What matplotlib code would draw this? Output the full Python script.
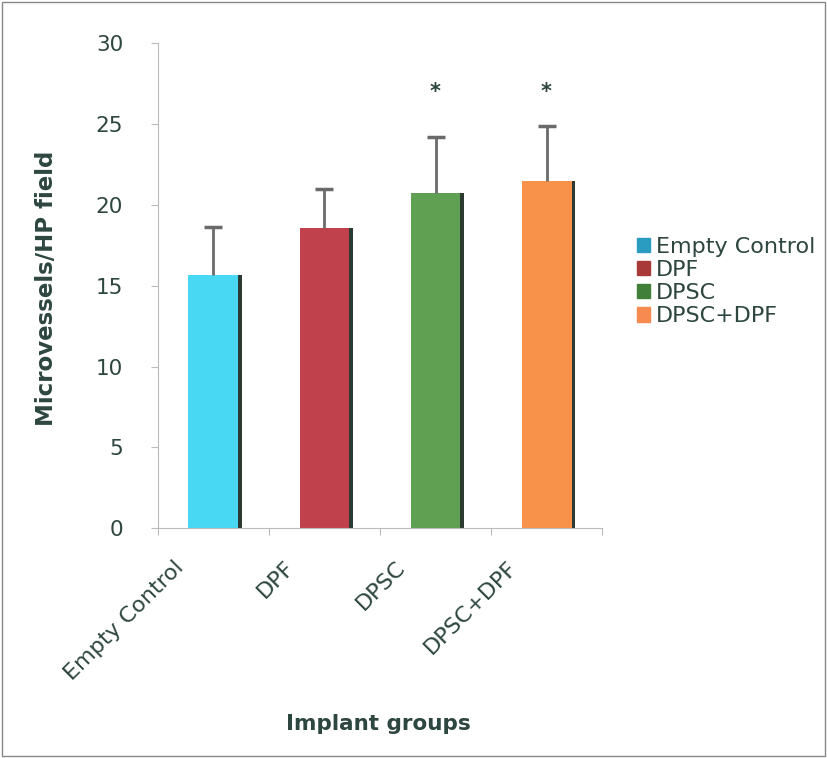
import matplotlib.pyplot as plt
import matplotlib.patches as mpatches
import numpy as np

groups = ['Empty Control', 'DPF', 'DPSC', 'DPSC+DPF']
means = [15.65, 18.6, 20.75, 21.5]
errs = [3.0, 2.4, 3.45, 3.4]
signif = ['', '', '*', '*']

bar_colors = ['#48d8f4', '#c0404c', '#5fa052', '#f8914a']
legend_colors = ['#2a9cc2', '#a83a3a', '#3f7f3a', '#f78a50']
txt = '#2e4640'

plt.rcParams['font.family'] = 'DejaVu Sans'
fig = plt.figure(figsize=(8.27, 7.58), dpi=100)
ax = fig.add_axes([0.191, 0.303, 0.537, 0.640])

x = np.arange(len(groups))
w = 0.45
# dark shadow on right side of each bar
ax.bar(x + 0.035, means, w, color='#2b3b32', zorder=1)
ax.bar(x, means, w, color=bar_colors, zorder=2)
eb = ax.errorbar(x, means, yerr=[np.zeros(len(errs)), errs], fmt='none',
                 ecolor='#6a6a6a', elinewidth=2, capsize=6.5, capthick=2.5, zorder=3)
eb[1][0].set_visible(False)  # only upper cap
for xi, s in zip(x, signif):
    if s:
        ax.text(xi, 27.0, s, ha='center', va='center', fontsize=15,
                color=txt, fontweight='bold')

ax.set_xlim(-0.5, 3.5)
ax.set_ylim(0, 30)
ax.set_yticks(range(0, 31, 5))
ax.set_xticks(np.arange(-0.5, 4, 1))
ax.set_xticklabels([])
# category labels, rotated, shifted left/down like the original
for xi, g in zip(x, groups):
    ax.annotate(g, xy=(xi, 0), xycoords=('data', 'axes fraction'),
                xytext=(-33, -36), textcoords='offset pixels',
                rotation=45, rotation_mode='anchor', ha='right', va='center',
                fontsize=16, color=txt, annotation_clip=False)
ax.tick_params(axis='x', length=5, direction='out', color='#bbbbbb')
ax.tick_params(axis='y', length=5, color='#bbbbbb', labelsize=15.5,
               labelcolor=txt, pad=20)
for sp in ['top', 'right']:
    ax.spines[sp].set_visible(False)
for sp in ['left', 'bottom']:
    ax.spines[sp].set_color('#bbbbbb')

fig.text(0.056, 0.62, 'Microvessels/HP field', rotation=90, ha='center',
         va='center', fontsize=16.5, fontweight='bold', color=txt)
fig.text(0.458, 0.045, 'Implant groups', ha='center', va='center',
         fontsize=15.5, fontweight='bold', color=txt)

handles = [mpatches.Patch(color=c, label=g) for c, g in zip(legend_colors, groups)]
leg = fig.legend(handles=handles, loc='upper left', bbox_to_anchor=(0.76, 0.699),
                 frameon=False, fontsize=16, handlelength=0.55, handleheight=0.6,
                 handletextpad=0.3, labelspacing=0.14, borderaxespad=0)
for t in leg.get_texts():
    t.set_color(txt)

# outer border
fig.patches.append(mpatches.Rectangle((0.002, 0.002), 0.996, 0.996,
                                      transform=fig.transFigure, fill=False,
                                      edgecolor='#888888', linewidth=1))

fig.savefig('out.png', dpi=100)
